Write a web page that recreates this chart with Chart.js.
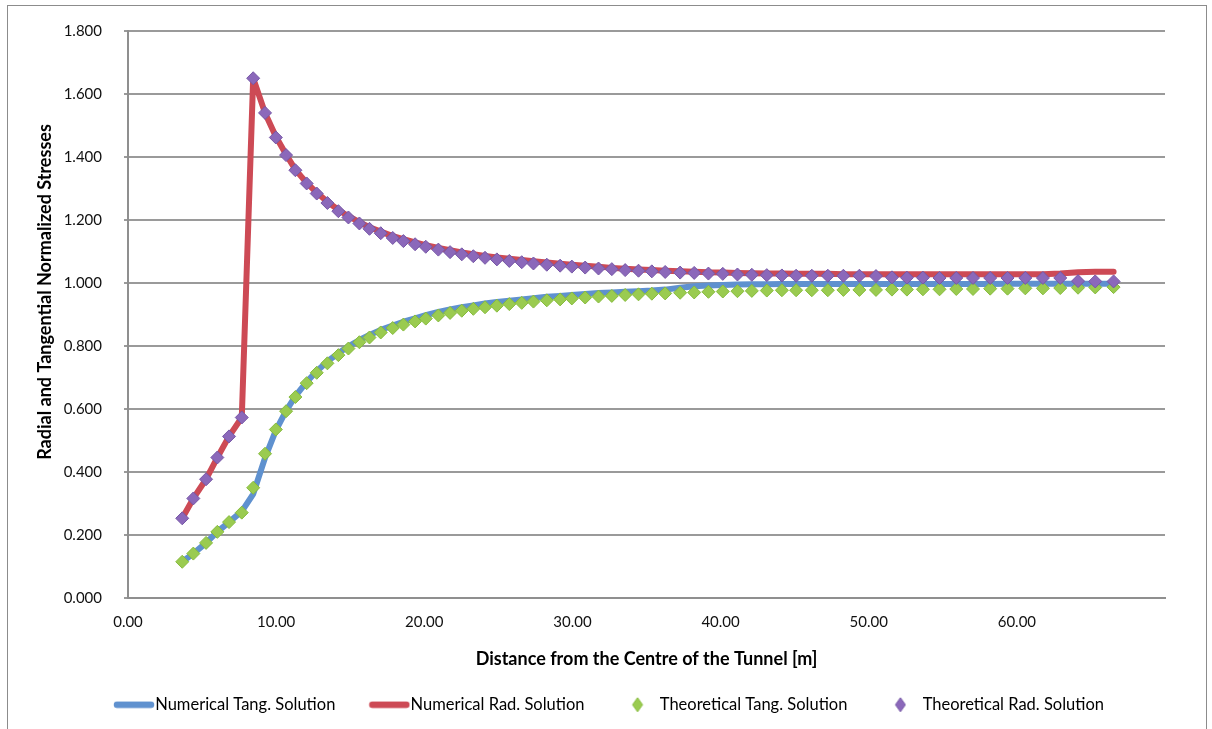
<!DOCTYPE html>
<html>
<head>
<meta charset="utf-8">
<script src="https://cdn.jsdelivr.net/npm/chart.js@4.4.1/dist/chart.umd.min.js"></script>
<style>
  html, body { margin: 0; padding: 0; background: #ffffff; }
  #wrap { position: relative; width: 1212px; height: 729px; overflow: hidden; background: #fff; }
  #frame { position: absolute; left: 7px; top: 5px; width: 1200px; height: 740px; border: 1px solid #8c8c8c; box-sizing: border-box; pointer-events: none; }
  canvas { position: absolute; left: 0; top: 0; }
</style>
</head>
<body>
<div id="wrap">
  <canvas id="c" width="1212" height="729"></canvas>
  <div id="frame"></div>
</div>
<script>
// ---- data ----
const distances = [3.66,4.41,5.27,6.03,6.82,7.68,8.45,9.25,9.98,10.67,
  11.30,12.06,12.74,13.46,14.20,14.88,15.62,16.30,17.06,17.87,
  18.59,19.38,20.10,20.95,21.74,22.53,23.31,24.10,24.90,25.74,
  26.58,27.37,28.27,29.17,29.96,30.86,31.76,32.66,33.56,34.46,
  35.36,36.26,37.27,38.22,39.18,40.15,41.14,42.11,43.12,44.14,
  45.10,46.16,47.24,48.29,49.37,50.49,51.57,52.58,53.66,54.78,
  55.91,57.04,58.20,59.37,60.57,61.76,62.93,64.13,65.29,66.53];

const numericalTang = [0.115,0.141,0.175,0.210,0.241,0.275,0.330,0.445,0.532,0.594,
  0.641,0.686,0.720,0.751,0.777,0.799,0.819,0.835,0.851,0.865,
  0.877,0.888,0.898,0.908,0.916,0.923,0.929,0.935,0.940,0.944,
  0.948,0.952,0.956,0.959,0.962,0.965,0.968,0.970,0.972,0.974,
  0.976,0.979,0.985,0.990,0.992,0.994,0.995,0.996,0.996,0.997,
  0.997,0.997,0.997,0.997,0.997,0.997,0.997,0.997,0.997,0.997,
  0.997,0.997,0.997,0.998,0.998,0.998,0.998,0.998,0.998,0.998];

const numericalRad = [0.253,0.316,0.377,0.446,0.513,0.573,1.650,1.540,1.465,1.408,
  1.360,1.318,1.287,1.258,1.232,1.212,1.193,1.177,1.163,1.149,
  1.139,1.129,1.120,1.111,1.104,1.097,1.091,1.086,1.081,1.077,
  1.073,1.069,1.065,1.061,1.058,1.055,1.052,1.048,1.045,1.043,
  1.041,1.039,1.037,1.036,1.034,1.033,1.032,1.031,1.030,1.030,
  1.029,1.029,1.029,1.028,1.028,1.028,1.028,1.028,1.028,1.028,
  1.028,1.028,1.028,1.028,1.028,1.028,1.030,1.034,1.036,1.036];

const theoreticalTang = [0.115,0.141,0.175,0.210,0.241,0.271,0.350,0.458,0.535,0.593,
  0.638,0.682,0.715,0.745,0.771,0.792,0.812,0.827,0.843,0.857,
  0.868,0.878,0.887,0.897,0.905,0.912,0.918,0.923,0.928,0.933,
  0.937,0.941,0.945,0.948,0.951,0.954,0.957,0.959,0.962,0.964,
  0.966,0.967,0.969,0.970,0.972,0.973,0.974,0.975,0.976,0.977,
  0.977,0.977,0.977,0.978,0.978,0.978,0.979,0.979,0.980,0.980,
  0.981,0.981,0.982,0.982,0.983,0.983,0.984,0.985,0.986,0.987];

const theoreticalRad = [0.253,0.316,0.377,0.446,0.513,0.573,1.650,1.540,1.462,1.406,
  1.358,1.316,1.284,1.254,1.228,1.208,1.189,1.172,1.158,1.143,
  1.133,1.123,1.115,1.106,1.098,1.091,1.085,1.080,1.075,1.070,
  1.066,1.062,1.058,1.055,1.052,1.049,1.046,1.044,1.041,1.039,
  1.037,1.035,1.033,1.032,1.030,1.029,1.027,1.026,1.025,1.024,
  1.023,1.023,1.023,1.023,1.023,1.022,1.018,1.017,1.017,1.016,
  1.016,1.016,1.016,1.016,1.016,1.016,1.016,1.006,1.005,1.005];

const seriesNames = ['Numerical Tang. Solution','Numerical Rad. Solution','Theoretical Tang. Solution','Theoretical Rad. Solution'];
const xAxisTitle = 'Distance from the Centre of the Tunnel [m]';
const yAxisTitle = 'Radial and Tangential Normalized Stresses';
const xTickValues = [0,10,20,30,40,50,60];
const yTickValues = [0,0.2,0.4,0.6,0.8,1.0,1.2,1.4,1.6,1.8];

// ---- styling ----
const BLUE = '#5f91cf', RED = '#cd4a55', GREEN = '#9acb50', GREEN_B = '#86bb3c', PURPLE = '#8b68ba', PURPLE_B = '#7657a6';
const FONT = 'Lato, "Open Sans", "DejaVu Sans", sans-serif';

function pts(ys) { return distances.map((x, i) => ({ x: x, y: ys[i] })); }

// legend swatch images (drawn centred on a 40px legend box)
function lineSwatch(color) {
  const c = document.createElement('canvas');
  c.width = 56; c.height = 8;
  const g = c.getContext('2d');
  g.strokeStyle = color; g.lineWidth = 6.5; g.lineCap = 'round';
  g.beginPath(); g.moveTo(18, 4); g.lineTo(52, 4); g.stroke();
  return c;
}
function diamondSwatch(fill, border) {
  const c = document.createElement('canvas');
  c.width = 24; c.height = 16;
  const g = c.getContext('2d');
  g.fillStyle = fill; g.strokeStyle = border; g.lineWidth = 1;
  g.beginPath(); g.moveTo(18, 1); g.lineTo(23, 8); g.lineTo(18, 15); g.lineTo(13, 8); g.closePath();
  g.fill(); g.stroke();
  return c;
}
const swatches = [lineSwatch(BLUE), lineSwatch(RED), diamondSwatch(GREEN, GREEN_B), diamondSwatch(PURPLE, PURPLE_B)];

const yTitlePlugin = {
  id: 'yTitle',
  afterLayout(chart) {
    // centre the legend row on the whole canvas width, not only the padded box
    if (chart.legend) { chart.legend.left = 0; chart.legend.right = 1211; }
  },
  afterDraw(chart) {
    const ctx = chart.ctx;
    ctx.save();
    ctx.translate(45, 292);
    ctx.rotate(-Math.PI / 2);
    ctx.font = 'bold 18px ' + FONT;
    ctx.fillStyle = '#000';
    ctx.textAlign = 'center';
    ctx.textBaseline = 'middle';
    ctx.fillText(yAxisTitle, 0, 0);
    ctx.restore();
  }
};

new Chart(document.getElementById('c'), {
  type: 'scatter',
  data: {
    datasets: [
      { label: seriesNames[0], data: pts(numericalTang), showLine: true, borderColor: BLUE, backgroundColor: BLUE,
        borderWidth: 6, pointRadius: 0, pointHoverRadius: 0, tension: 0, borderJoinStyle: 'round', borderCapStyle: 'round', order: 2 },
      { label: seriesNames[1], data: pts(numericalRad), showLine: true, borderColor: RED, backgroundColor: RED,
        borderWidth: 6, pointRadius: 0, pointHoverRadius: 0, tension: 0, borderJoinStyle: 'round', borderCapStyle: 'round', order: 2 },
      { label: seriesNames[2], data: pts(theoreticalTang), showLine: false, pointStyle: 'rectRot',
        pointRadius: 6.5, pointBackgroundColor: GREEN, pointBorderColor: GREEN_B, pointBorderWidth: 1, order: 1 },
      { label: seriesNames[3], data: pts(theoreticalRad), showLine: false, pointStyle: 'rectRot',
        pointRadius: 6.5, pointBackgroundColor: PURPLE, pointBorderColor: PURPLE_B, pointBorderWidth: 1, order: 0 }
    ]
  },
  options: {
    responsive: false,
    animation: false,
    devicePixelRatio: 1,
    layout: { padding: { left: 0, top: 29, right: 47, bottom: 6 } },
    plugins: {
      tooltip: { enabled: false },
      legend: {
        position: 'bottom',
        labels: {
          usePointStyle: true,
          pointStyleWidth: 40,
          padding: 27,
          color: '#111',
          font: { family: FONT, size: 16.5 },
          generateLabels(chart) {
            return chart.data.datasets.map((ds, i) => ({
              text: ds.label, datasetIndex: i, pointStyle: swatches[i],
              fillStyle: 'transparent', strokeStyle: 'transparent', lineWidth: 0, hidden: false
            }));
          }
        }
      }
    },
    scales: {
      x: {
        type: 'linear', min: 0, max: 70,
        afterBuildTicks(scale) { scale.ticks = xTickValues.concat([70]).map(v => ({ value: v })); },
        afterFit(scale) { scale.height = 71.5; },
        grid: { display: false, drawTicks: false },
        border: { display: true, color: '#8f8f8f', width: 2 },
        ticks: { padding: 15, color: '#111', font: { family: FONT, size: 15 }, maxRotation: 0,
          callback: (v) => (v >= 70 ? '' : Number(v).toFixed(2)) },
        title: { display: true, text: xAxisTitle, color: '#000', font: { family: FONT, size: 18, weight: 'bold' },
          padding: { top: 0, bottom: 0 } }
      },
      y: {
        type: 'linear', min: 0, max: 1.8,
        afterBuildTicks(scale) { scale.ticks = yTickValues.map(v => ({ value: v })); },
        afterFit(scale) { scale.width = 128; },
        grid: { display: true, color: '#9a9a9a', lineWidth: 2, drawTicks: true, tickLength: 4 },
        border: { display: true, color: '#8f8f8f', width: 2 },
        ticks: { padding: 22, color: '#111', font: { family: FONT, size: 15 },
          callback: (v) => Number(v).toFixed(3) },
        title: { display: false }
      }
    }
  },
  plugins: [yTitlePlugin]
});
</script>
</body>
</html>
